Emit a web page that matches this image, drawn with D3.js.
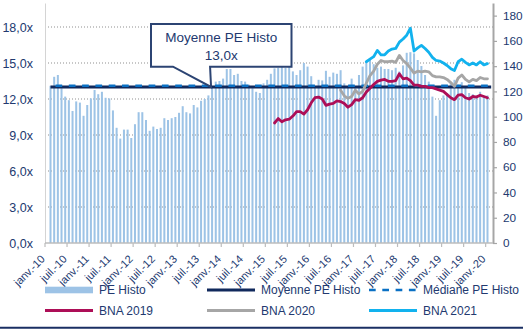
<!DOCTYPE html>
<html>
<head>
<meta charset="utf-8">
<script src="https://cdn.jsdelivr.net/npm/d3@7"></script>
<style>
  html, body { margin: 0; padding: 0; background: #fff; }
  svg { display: block; font-family: "Liberation Sans", Arial, sans-serif; }
</style>
</head>
<body>
<svg id="chart" width="523" height="329"></svg>
<script>
// Monthly categories, janv.-10 … févr.-20
const monthNames = ["janv.", "févr.", "mars", "avr.", "mai", "juin", "juil.", "août", "sept.", "oct.", "nov.", "déc."];
const monthDates = d3.timeMonth.range(new Date(2010, 0, 1), new Date(2020, 2, 1));
const months = monthDates.map(d => monthNames[d.getMonth()] + "-" + String(d.getFullYear()).slice(2));

// Historical P/E (left axis), one value per month
const peHisto = [
  null, 13.1, 13.85, 14.0, 12.9, 12.2, 11.9, 11.0, 11.8, 11.7, 10.6, 11.5,
  12.05, 12.75, 12.4, 12.6, 12.1, 12.05, 11.05, 9.6, 8.7, 9.45, 9.45, 8.75,
  9.9, 10.9, 10.9, 10.25, 9.35, 9.7, 9.5, 9.6, 10.4, 10.25, 10.4, 10.5,
  10.85, 11.4, 10.9, 10.8, 11.5, 11.3, 11.85, 12.0, 12.3, 13.0, 13.45, 13.5,
  13.7, 14.5, 14.5, 14.0, 14.1, 13.5, 13.45, 13.2, 12.9, 12.6, 12.5, 13.3,
  13.6, 14.1, 14.55, 14.6, 14.7, 14.6, 14.7, 14.3, 14.0, 14.4, 15.0, 14.7,
  13.9, 13.0, 13.6, 13.55, 14.35, 13.85, 14.2, 14.1, 14.4, 13.3, 12.95, 13.7,
  13.0, 14.0, 14.7, 15.1, 15.3, 14.9, 14.6, 14.7, 14.5, 14.5, 14.4, 14.6,
  14.3, 14.8, 15.85, 15.9, 15.8, 15.25, 14.75, 14.0, 13.45, 12.2, 10.6, 11.9,
  12.3, 12.5, 13.3, 13.6, 13.2, 13.4, 13.0, 12.5, 12.4, 12.3, 12.6, 12.2,
  12.3, null
];
const moyennePE = 13.0;
const medianePE = 13.1;

// Net earnings estimates (right axis), each starting at a given month
const bna2019Start = "mars-15";
const bna2019 = [
  95, 98.5, 96, 97.5, 98, 100.5, 104, 104, 102, 105.5, 111, 115,
  115.5, 114, 109, 110, 110.5, 112.5, 112, 110.5, 107.5, 109.5, 113.5, 113,
  115, 119.5, 122.5, 125.5, 128, 129, 129.5, 128, 128, 128.5, 134, 130,
  130.5, 128.5, 125, 125, 124, 124, 123, 123, 122, 121, 120, 117.5,
  115, 113.5, 117, 117.5, 115, 114, 116, 115.5, 117, 116, 115
];
const bna2020Start = "sept.-16";
const bna2020 = [
  121, 116.5, 114.5, 116, 121, 118, 120, 126.5, 132.5, 136, 141.5, 144.5,
  143.5, 143.5, 144, 143, 148.5, 144.5, 142, 138.5, 134.5, 136, 135.5, 136,
  135.5, 132.5, 131.5, 131.5, 131, 129.5, 127, 124, 130.5, 133, 129.5, 127.5,
  129.5, 128.5, 131, 130, 130
];
const bna2021Start = "avr.-17";
const bna2021 = [
  143.5, 145.5, 147.5, 152.5, 149, 149, 152, 153.5, 154, 159, 161.5, 164.5,
  170, 152, 154.5, 156.5, 154, 151, 147, 144.5, 144, 142.5, 140.5, 138,
  136.5, 143.5, 145.5, 143, 141, 142.5, 141, 143.5, 141, 142
];

// Axis ticks
const leftTicks = [0, 3, 6, 9, 12, 15, 18];
const rightTicks = [0, 20, 40, 60, 80, 100, 120, 140, 160, 180];
const labelEvery = 6;

// Colours
const C = {
  bar: "#9dc3e6",
  mean: "#10295c",
  median: "#0a70c4",
  b19: "#ad0e57",
  b20: "#a6a6a6",
  b21: "#12b2ee",
  text: "#22396f",
  grid: "#8f8f8f",
  axis: "#bdbdbd",
  box: "#2c4473"
};

const svg = d3.select("#chart");
const plotL = 45, plotR = 493, plotT = 3, plotB = 243;

const x = d3.scaleBand().domain(months).range([plotL, plotR]).paddingInner(0.45).paddingOuter(0.225);
const cx = m => x(m) + x.bandwidth() / 2;
const yL = d3.scaleLinear().domain([0, 20]).range([plotB, plotT]);
const yR = d3.scaleLinear().domain([0, 190]).range([plotB, plotT]);

// Gridlines (left axis)
svg.append("g").selectAll("line").data(leftTicks.filter(v => v > 0)).join("line")
  .attr("x1", plotL).attr("x2", plotR)
  .attr("y1", d => yL(d)).attr("y2", d => yL(d))
  .attr("stroke", C.grid).attr("stroke-width", 1).attr("stroke-dasharray", "1,2");

// Bars
svg.append("g").selectAll("rect").data(months.map((m, i) => ({ m, v: peHisto[i] })).filter(d => d.v != null)).join("rect")
  .attr("x", d => x(d.m)).attr("width", x.bandwidth())
  .attr("y", d => yL(d.v)).attr("height", d => yL(0) - yL(d.v))
  .attr("fill", C.bar);

// Left axis
const axL = svg.append("g").attr("transform", `translate(${plotL},0)`)
  .call(d3.axisLeft(yL).tickValues(leftTicks).tickSize(0).tickPadding(12)
    .tickFormat(d => d3.format(".1f")(d).replace(".", ",") + "x"));
axL.select(".domain").attr("stroke", "#d4d4d4").attr("stroke-width", 1);
axL.selectAll("text").attr("fill", C.text).attr("font-size", 12.5).attr("font-family", "Liberation Sans, Arial, sans-serif");

// Right axis
const axR = svg.append("g").attr("transform", `translate(${plotR},0)`)
  .call(d3.axisRight(yR).tickValues(rightTicks).tickSize(4).tickSizeOuter(0).tickPadding(6));
axR.select(".domain").attr("stroke", "#a6a6a6").attr("stroke-width", 2);
axR.selectAll(".tick line").attr("stroke", "#a6a6a6").attr("stroke-width", 1.2);
axR.selectAll("text").attr("fill", C.text).attr("font-size", 11.8).attr("font-family", "Liberation Sans, Arial, sans-serif");

// Bottom axis: line, ticks at category boundaries, rotated labels
svg.append("line").attr("x1", plotL).attr("x2", plotR).attr("y1", plotB).attr("y2", plotB)
  .attr("stroke", C.axis).attr("stroke-width", 1.5);
const labelled = months.filter((m, i) => i % labelEvery === 0 && i <= 120);
svg.append("g").selectAll("line").data(labelled).join("line")
  .attr("x1", m => plotL + months.indexOf(m) * x.step()).attr("x2", m => plotL + months.indexOf(m) * x.step())
  .attr("y1", plotB).attr("y2", plotB + 4)
  .attr("stroke", C.axis).attr("stroke-width", 1.2);
svg.append("g").selectAll("text").data(labelled).join("text")
  .attr("transform", m => `translate(${cx(m) - 4},257) rotate(-45)`)
  .attr("text-anchor", "end").attr("dy", "0.35em")
  .attr("font-size", 11).attr("fill", C.text)
  .text(m => m);

// Mean / median reference lines
const refMonths = months.slice(1);
const lineRef = d3.line().x(m => cx(m));
svg.append("path").attr("d", lineRef.y(() => yL(moyennePE))(refMonths))
  .attr("fill", "none").attr("stroke", C.mean).attr("stroke-width", 3.2);
svg.append("path").attr("d", lineRef.y(() => yL(medianePE))(refMonths))
  .attr("fill", "none").attr("stroke", C.median).attr("stroke-width", 2.4)
  .attr("stroke-dasharray", "6.7,6.6").attr("stroke-dashoffset", 8.3);

// Earnings lines
function series(start, vals) {
  const i0 = months.indexOf(start);
  return vals.map((v, k) => ({ m: months[i0 + k], v }));
}
const lineR = d3.line().x(d => cx(d.m)).y(d => yR(d.v)).curve(d3.curveLinear);
[[series(bna2020Start, bna2020), C.b20], [series(bna2021Start, bna2021), C.b21], [series(bna2019Start, bna2019), C.b19]]
  .forEach(([data, col]) => {
    svg.append("path").attr("d", lineR(data))
      .attr("fill", "none").attr("stroke", col).attr("stroke-width", 2.8)
      .attr("stroke-linejoin", "round").attr("stroke-linecap", "round");
  });

// Callout box for the historical mean
const tipX = x(months[45]), tipY = yL(moyennePE);
const bx0 = 151, bx1 = 291.5, by0 = 24, by1 = 66.7;
svg.append("path")
  .attr("d", `M${bx0},${by0} L${bx1},${by0} L${bx1},${by1} L${tipX - 1},${by1} L${tipX},${tipY} L${173},${by1} L${bx0},${by1} Z`)
  .attr("fill", "#fff").attr("stroke", C.box).attr("stroke-width", 2).attr("stroke-linejoin", "miter");
svg.append("text").attr("x", (bx0 + bx1) / 2).attr("y", 42).attr("text-anchor", "middle")
  .attr("font-size", 13.5).attr("fill", C.text).text("Moyenne PE Histo");
svg.append("text").attr("x", (bx0 + bx1) / 2).attr("y", 60).attr("text-anchor", "middle")
  .attr("font-size", 13.5).attr("fill", C.text).text(d3.format(".1f")(moyennePE).replace(".", ",") + "x");

// Legend
const legend = [
  { label: "PE Histo", type: "rect", color: C.bar, col: 0, row: 0 },
  { label: "Moyenne PE Histo", type: "line", color: C.mean, col: 1, row: 0 },
  { label: "Médiane PE Histo", type: "dash", color: C.median, col: 2, row: 0 },
  { label: "BNA 2019", type: "line", color: C.b19, col: 0, row: 1 },
  { label: "BNA 2020", type: "line", color: C.b20, col: 1, row: 1 },
  { label: "BNA 2021", type: "line", color: C.b21, col: 2, row: 1 }
];
const colX = [45, 207, 369], rowY = [290, 310.5], swW = 48;
const lg = svg.append("g").selectAll("g").data(legend).join("g")
  .attr("transform", d => `translate(${colX[d.col]},${rowY[d.row]})`);
lg.filter(d => d.type === "rect").append("rect")
  .attr("x", 0).attr("y", -3.3).attr("width", swW).attr("height", 6.6).attr("fill", d => d.color);
lg.filter(d => d.type !== "rect").append("line")
  .attr("x1", 0).attr("x2", swW).attr("y1", 0).attr("y2", 0)
  .attr("stroke", d => d.color).attr("stroke-width", d => d.type === "dash" ? 2.4 : 3)
  .attr("stroke-dasharray", d => d.type === "dash" ? "6.7,6.6" : null);
lg.append("text").attr("x", swW + 6).attr("dy", "0.35em")
  .attr("font-size", 12).attr("fill", C.text).text(d => d.label);

// Bottom rule
svg.append("line").attr("x1", 0).attr("x2", 523).attr("y1", 327.8).attr("y2", 327.8)
  .attr("stroke", "#1a2f63").attr("stroke-width", 2);
</script>
</body>
</html>
